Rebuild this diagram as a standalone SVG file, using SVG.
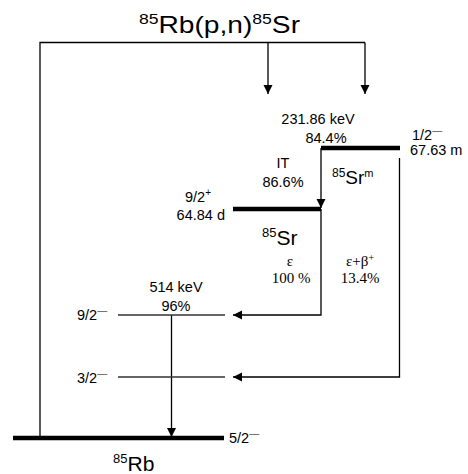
<svg xmlns="http://www.w3.org/2000/svg" width="468" height="474" viewBox="0 0 468 474">
<defs>
<marker id="ah" markerWidth="10" markerHeight="10" refX="9" refY="4.5" orient="auto" markerUnits="userSpaceOnUse">
<path d="M0,0 L9,4.5 L0,9 Z" fill="#000"/>
</marker>
<style>
.ln{fill:none;stroke:#000;stroke-width:1.3}
.arr{fill:none;stroke:#000;stroke-width:1.3;marker-end:url(#ah)}
.thick{stroke:#000;stroke-width:4.5}
.thin{stroke:#333;stroke-width:1.4}
.a{font-family:"Liberation Sans",Arial,sans-serif;font-size:14.5px;fill:#000}
.t{font-family:"Liberation Serif","Times New Roman",serif;font-size:15px;fill:#000}
.big{font-family:"Liberation Sans",Arial,sans-serif;font-size:21px;fill:#000}
.sup{font-size:10px}
.dash{font-size:10px;fill:#555}
</style>
</defs>
<g id="title"><text class="big" x="139" y="33" style="font-size:24px" textLength="161" lengthAdjust="spacingAndGlyphs"><tspan style="font-size:15px" dy="-9">85</tspan><tspan dy="9">Rb(p,n)</tspan><tspan style="font-size:15px" dy="-9">85</tspan><tspan dy="9">Sr</tspan></text></g>
<g id="connectors">
<polyline class="ln" points="40,438 40,42.5 365,42.5"/>
<line class="arr" x1="365" y1="42.5" x2="365" y2="94"/>
<line class="arr" x1="268" y1="42.5" x2="268" y2="94"/>
<line class="arr" x1="321" y1="148" x2="321" y2="208"/>
<polyline class="arr" points="399.5,158 399.5,377 233,377"/>
<polyline class="arr" points="321,209 321,315 233,315"/>
<line class="arr" x1="171.5" y1="315" x2="171.5" y2="437"/>
</g>
<g id="level-Srm">
<line class="thick" x1="321" y1="148" x2="400" y2="148"/>
<text class="a" x="318" y="124" text-anchor="middle">231.86 keV</text>
<text class="a" x="326" y="143" text-anchor="middle">84.4%</text>
<text class="a" x="412" y="140">1/2<tspan class="dash" dy="-6">—</tspan></text>
<text class="a" x="410" y="155">67.63 m</text>
<text class="big" x="332" y="184" style="font-size:19px"><tspan style="font-size:12px" dy="-7">85</tspan><tspan dy="7">Sr</tspan><tspan style="font-size:11px" dy="-7">m</tspan></text>
</g>
<g id="IT-label">
<text class="a" x="283" y="168" text-anchor="middle">IT</text>
<text class="a" x="283" y="187" text-anchor="middle">86.6%</text>
</g>
<g id="level-Sr">
<line class="thick" x1="233" y1="209" x2="321" y2="209"/>
<text class="a" x="211" y="202" text-anchor="end">9/2<tspan class="sup" dy="-6">+</tspan></text>
<text class="a" x="225" y="220" text-anchor="end">64.84 d</text>
<text class="big" x="262" y="245" style="font-size:21px"><tspan style="font-size:13px" dy="-8">85</tspan><tspan dy="8">Sr</tspan></text>
</g>
<g id="eps-label">
<text class="t" x="290" y="266" text-anchor="middle">ε</text>
<text class="t" x="291" y="283" text-anchor="middle">100 %</text>
</g>
<g id="epsbeta-label">
<text class="t" x="360" y="266" text-anchor="middle">ε+β<tspan style="font-size:10px" dy="-5">+</tspan></text>
<text class="t" x="360" y="283" text-anchor="middle">13.4%</text>
</g>
<g id="level-92">
<line class="thin" x1="118" y1="315" x2="225" y2="315"/>
<text class="a" x="77" y="320">9/2<tspan class="dash" dy="-6">—</tspan></text>
<text class="a" x="176" y="292" text-anchor="middle">514 keV</text>
<text class="a" x="176" y="311" text-anchor="middle">96%</text>
</g>
<g id="level-32">
<line class="thin" x1="118" y1="377" x2="225" y2="377"/>
<text class="a" x="77" y="383">3/2<tspan class="dash" dy="-6">—</tspan></text>
</g>
<g id="level-Rb">
<line class="thick" x1="13" y1="438" x2="224" y2="438"/>
<text class="a" x="229" y="443">5/2<tspan class="dash" dy="-6">—</tspan></text>
<text class="big" x="113" y="471" style="font-size:21px"><tspan style="font-size:13px" dy="-8">85</tspan><tspan dy="8">Rb</tspan></text>
</g>
</svg>
